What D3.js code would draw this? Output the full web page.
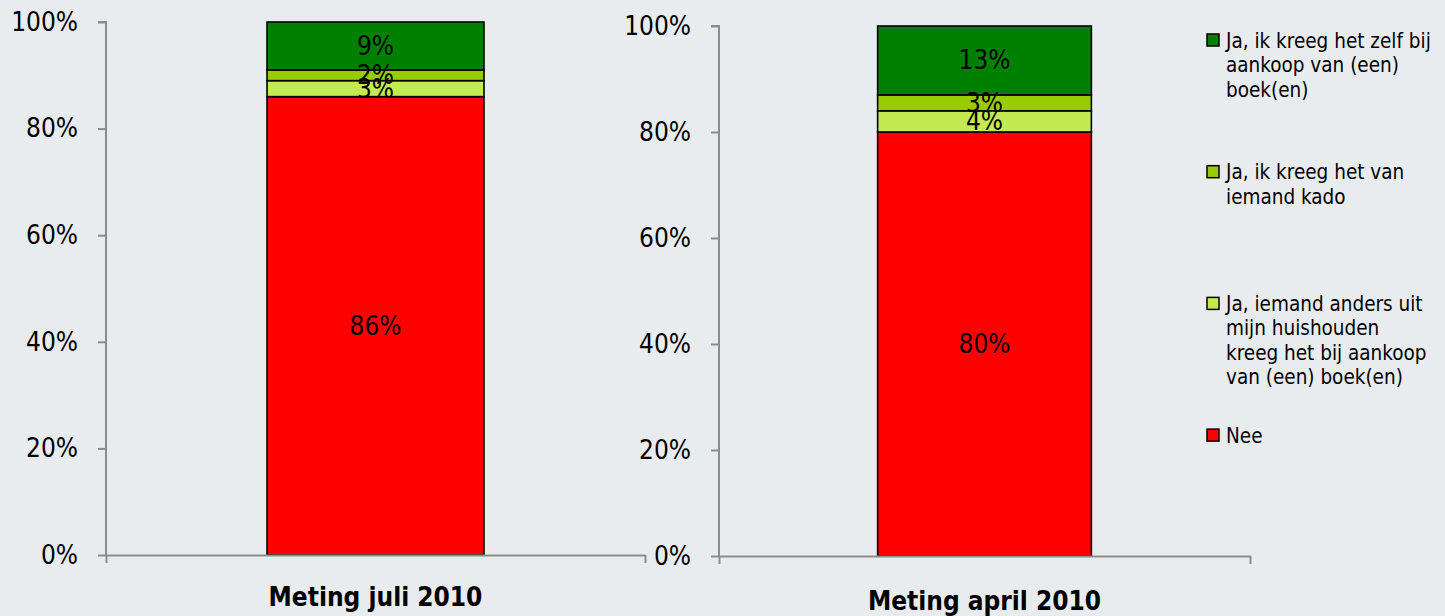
<!DOCTYPE html>
<html>
<head>
<meta charset="utf-8">
<script src="https://cdn.jsdelivr.net/npm/d3@7"></script>
<style>
  html, body { margin: 0; padding: 0; background: #e9ecee; }
  svg { display: block; }
  text { font-family: "DejaVu Sans Condensed", "DejaVu Sans", sans-serif; fill: #000; }
</style>
</head>
<body>
<svg id="chart" width="1445" height="616"></svg>
<script>
// Survey periods (one panel each)
const periods = ["Meting juli 2010", "Meting april 2010"];

// Answer categories, stacked bottom to top
const seriesKeys = ["nee", "anders", "kado", "zelf"];
const seriesColors = ["#ff0000", "#c3eb51", "#99cc00", "#008000"];

// Legend texts, top to bottom, already split into lines
const legendLines = [
  ["Ja, ik kreeg het zelf bij", "aankoop van (een)", "boek(en)"],
  ["Ja, ik kreeg het van", "iemand kado"],
  ["Ja, iemand anders uit", "mijn huishouden", "kreeg het bij aankoop", "van (een) boek(en)"],
  ["Nee"]
];
const legendColors = ["#008000", "#99cc00", "#c3eb51", "#ff0000"];

// Percentages per period (same order as seriesKeys)
const juli2010 = [86, 3, 2, 9];
const april2010 = [80, 4, 3, 13];
const periodValues = [juli2010, april2010];

const yTicks = [0, 20, 40, 60, 80, 100];

const svg = d3.select("#chart");

// Panel frames in pixels
const panels = [
  { x0: 106, x1: 645, y0: 22, y1: 555, titleY: 606 },
  { x0: 719, x1: 1250, y0: 26, y1: 556, titleY: 610 }
];

const axisColor = "#8c8c8c";

panels.forEach((p, i) => {
  const g = svg.append("g");
  const x = d3.scaleBand().domain([periods[i]]).range([p.x0, p.x1]).padding(0.426);
  const y = d3.scaleLinear().domain([0, 100]).range([p.y1, p.y0]);

  // stacked segments
  const row = {};
  seriesKeys.forEach((k, j) => row[k] = periodValues[i][j]);
  const stacked = d3.stack().keys(seriesKeys)([row]);

  g.selectAll("rect.seg").data(stacked).join("rect")
    .attr("class", "seg")
    .attr("x", x(periods[i]))
    .attr("width", x.bandwidth())
    .attr("y", d => y(d[0][1]))
    .attr("height", d => y(d[0][0]) - y(d[0][1]))
    .attr("fill", (d, j) => seriesColors[j])
    .attr("stroke", "#000")
    .attr("stroke-width", 1.6);

  g.selectAll("text.val").data(stacked).join("text")
    .attr("class", "val")
    .attr("x", x(periods[i]) + x.bandwidth() / 2)
    .attr("y", d => (y(d[0][0]) + y(d[0][1])) / 2)
    .attr("text-anchor", "middle")
    .attr("dominant-baseline", "central")
    .attr("font-size", 26)
    .text(d => d[0].data[d.key] + "%");

  // y axis
  const yAxis = g.append("g")
    .attr("transform", `translate(${p.x0},0)`)
    .call(d3.axisLeft(y).tickValues(yTicks).tickFormat(d => d + "%").tickSize(8).tickPadding(20));
  yAxis.select(".domain").attr("stroke", axisColor).attr("stroke-width", 2)
    .attr("d", `M-8,${p.y0}H0V${p.y1}`);
  yAxis.selectAll(".tick line").attr("stroke", axisColor).attr("stroke-width", 2);
  yAxis.selectAll(".tick text").attr("font-size", 26).attr("fill", "#000")
    .attr("font-family", '"DejaVu Sans Condensed", "DejaVu Sans", sans-serif');

  // x axis: baseline with end ticks
  const xEdge = d3.scaleLinear().domain([0, 1]).range([p.x0, p.x1]);
  const xAxis = g.append("g")
    .attr("transform", `translate(0,${p.y1})`)
    .call(d3.axisBottom(xEdge).tickValues([0, 1]).tickFormat("").tickSize(8).tickSizeOuter(0));
  xAxis.select(".domain").attr("stroke", axisColor).attr("stroke-width", 2);
  xAxis.selectAll(".tick line").attr("stroke", axisColor).attr("stroke-width", 2);

  // category title
  g.append("text")
    .attr("x", x(periods[i]) + x.bandwidth() / 2)
    .attr("y", p.titleY)
    .attr("text-anchor", "middle")
    .attr("font-size", 26)
    .attr("font-weight", "bold")
    .text(periods[i]);
});

// legend
const legend = svg.append("g").attr("transform", "translate(1207,34)");
const items = legend.selectAll("g.item").data(legendLines).join("g")
  .attr("class", "item")
  .attr("transform", (d, i) => `translate(0,${i * 131.7})`);
items.append("rect")
  .attr("width", 12).attr("height", 12)
  .attr("fill", (d, i) => legendColors[i])
  .attr("stroke", "#000").attr("stroke-width", 1.5);
items.each(function(lines) {
  const t = d3.select(this).append("text")
    .attr("x", 19).attr("y", 13.5)
    .attr("font-size", 20.5);
  t.selectAll("tspan").data(lines).join("tspan")
    .attr("x", 19)
    .attr("dy", (d, k) => k === 0 ? 0 : 24.5)
    .text(d => d);
});
</script>
</body>
</html>
